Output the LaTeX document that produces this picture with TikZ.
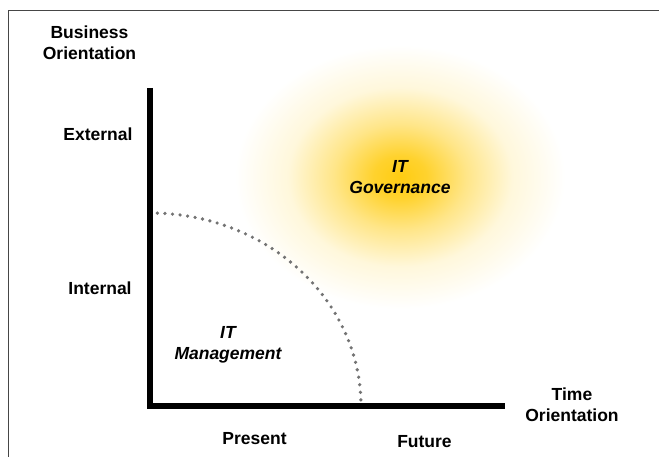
\documentclass[tikz,border=0pt]{standalone}
\usepackage{fontspec}
\setmainfont{Liberation Sans}
\usepackage{tikz}
\definecolor{GlowCore}{RGB}{255,204,17}
\definecolor{DotGray}{RGB}{115,115,115}
\definecolor{FrameGray}{RGB}{70,70,70}
\pgfdeclareradialshading{glow}{\pgfpoint{0bp}{0bp}}{color(0bp)=(GlowCore); color(4bp)=(GlowCore!88!white); color(10bp)=(GlowCore!50!white); color(17bp)=(GlowCore!15!white); color(25bp)=(white); color(50bp)=(white)}

\begin{document}
\begin{tikzpicture}[x=1pt, y=1pt,
      every node/.append style={inner sep=0pt, align=center, font=\fontsize{17.5}{21}\selectfont\bfseries},
      axis/.style={line width=6pt, line join=miter},
      boundary/.style={color=DotGray, line width=3.6pt, line cap=round, dash pattern=on 0pt off 7.6pt}]
    \tikzstyle{area} = [font=\fontsize{17.5}{21}\selectfont\bfseries\itshape]
    \useasboundingbox (0,0) rectangle (659,457);
    % frame, cut by the page
    \draw[color=FrameGray, line width=1.2pt] (8.5,0) -- (8.5,446.5) -- (662,446.5);
    % glow
    \coordinate (govc) at (400,280);
    \shade[shading=glow] (govc) ellipse [x radius=165, y radius=132];
    % axes
    \coordinate (origin) at (150,51);
    \coordinate (ytop) at (150,369);
    \coordinate (xend) at (505,51);
    \draw[axis] (ytop) -- (origin) -- (xend);
    % boundary between the two
    \draw[boundary, shift={(origin)}] (88:211pt and 193pt) arc [start angle=88, end angle=0, x radius=211pt, y radius=193pt];
    % labels
    \node (business) at (89.5,414) {Business\\Orientation};
    \node (external) at (98,323) {External};
    \node (internal) at (100,169) {Internal};
    \node (time) at (572,52) {Time\\Orientation};
    \node (present) at (254.5,18) {Present};
    \node (future) at (424.5,15) {Future};
    \node [area] (mgmt) at (228,112) {IT\\Management};
    \node [area] (gov) at (govc) {IT\\Governance};
\end{tikzpicture}
\end{document}
